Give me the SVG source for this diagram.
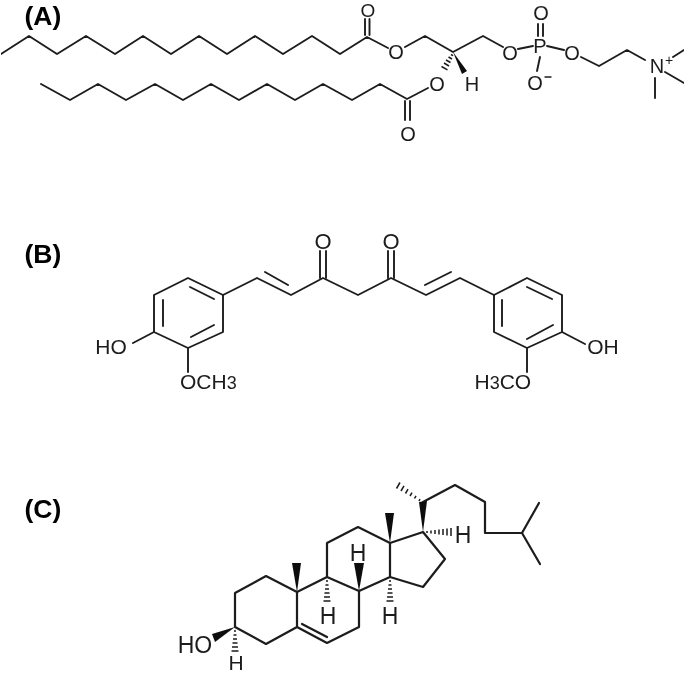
<svg xmlns="http://www.w3.org/2000/svg" width="685" height="675" viewBox="0 0 685 675">
<defs><filter id="soft" x="0" y="0" width="100%" height="100%"><feGaussianBlur stdDeviation="0.35"/></filter></defs>
<style>
.b{fill:none;stroke:#1c1c1c;stroke-width:1.9;stroke-linejoin:round;stroke-linecap:round}
.c{stroke-width:2.2}
.h{fill:none;stroke:#1c1c1c;stroke-width:1.5}
.w{fill:#111;stroke:none}
.a{font-family:"Liberation Sans",Arial,sans-serif;fill:#1c1c1c;text-anchor:middle}
.s19{font-size:19px}.s20{font-size:20px}.s21{font-size:21px}.s22{font-size:22px}.s23{font-size:23px}
.n{font-family:"Liberation Sans",Arial,sans-serif;font-size:21px;fill:#1c1c1c}
.n tspan{font-size:18px}
.l{font-family:"Liberation Sans",Arial,sans-serif;font-weight:bold;font-size:26.500px;fill:#000}
</style>
<rect width="685" height="675" fill="#fff"/>
<g filter="url(#soft)">
<g id="molecule-a">
<text class="l" x="24.500" y="25">(A)</text>
<path class="b" d="M1,54 L29,36 L57,54 L86,36 L115,54 L143,36 L171,54 L199,36 L227,54 L255,36 L283,54 L312,36 L340,54 L367,37 L388,48"/>
<path class="b" d="M365,35V19M369.500,35V19"/>
<path class="b" d="M405,47L425,36L453,52L483,36L503,47M518,49L533,46M547,46L564,50M581,57L599,66L627,50L645,60"/>
<path class="b" d="M538,36V24M543,36V24M540,57L537,71"/>
<path class="b" d="M673,57L684,50M665,72L684,83M655,78V98"/>
<path class="b" d="M41,84L70,100L98,84L126,100L155,84L183,100L211,84L239,100L267,84L295,100L323,84L352,100L380,84L407,99L428,88"/>
<path class="b" d="M405,101V120M410,101V120"/>
<polygon class="w" points="453,52 462,74 467,71"/>
<path class="h" d="M451,54.500l2,1.200M448.500,57l3.500,2M446,60l4.500,2.500M444,63l5,3M441.500,66.500l6,3.400"/>
<text class="a s19" x="368" y="17">O</text>
<text class="a s20" x="396" y="59">O</text>
<text class="a s20" x="437" y="91">O</text>
<text class="a s20" x="408" y="141">O</text>
<text class="a s20" x="472" y="91">H</text>
<text class="a s20" x="510" y="60">O</text>
<text class="a s20" x="540" y="53">P</text>
<text class="a s20" x="541" y="20">O</text>
<text class="a s20" x="535" y="90">O</text>
<path class="b" d="M545,77h6" style="stroke-width:1.300"/>
<text class="a s20" x="572" y="60">O</text>
<text class="a s20" x="657" y="73">N</text>
<text class="a" style="font-size:14px" x="669" y="65">+</text>
</g>
<g id="molecule-b">
<text class="l" x="24.500" y="263">(B)</text>
<path class="b" d="M188,278L223,295V332L188,348L154,332V295Z"/>
<path class="b" d="M190,287L214,299M214,325L191,337M163,300V326"/>
<path class="b" d="M223,295L257,278L291,295L323,278L358,295L391,278L426,295L460,278L494,295"/>
<path class="b" d="M265,272L288,285M320,278V251M326,278V251M388,278V251M394,278V251M425,285L451,272"/>
<path class="b" d="M527,278L562,295V332L527,348L494,332V295Z"/>
<path class="b" d="M527,287L552,299M553,325L527,339M502,300V326"/>
<path class="b" d="M154,332L133,343M188,348V372M562,332L585,344M527,348V372"/>
<text class="a s22" x="323" y="249">O</text>
<text class="a s22" x="391" y="249">O</text>
<text class="a s21" x="111" y="354">HO</text>
<text class="a s21" x="603" y="354">OH</text>
<text class="n" x="180" y="389">OCH<tspan>3</tspan></text>
<text class="n" x="474.500" y="389">H<tspan>3</tspan>CO</text>
</g>
<g id="molecule-c">
<text class="l" x="24.500" y="518">(C)</text>
<path class="b c" d="M235,627V593L266,576L297,592V627L266,644Z"/>
<path class="b c" d="M297,592L327,577L359,591V627L327,643L297,627"/>
<path class="b c" d="M302,624L327,637"/>
<path class="b c" d="M327,577V543L358,527L390,543V577L359,591"/>
<path class="b c" d="M390,543L423,532L445,559L423,587L390,577"/>
<path class="b c" d="M423,502L455,485L485,502V533H522L539,503M522,533L540,564"/>
<polygon class="w" points="297,592 292,563 301,563"/>
<polygon class="w" points="390,543 385,513 394,513"/>
<polygon class="w" points="359,591 354,563 364,563"/>
<polygon class="w" points="423,532 419,502 427,501"/>
<polygon class="w" points="235,627 212,634 215,642"/>
<path class="h" d="M326,581h2M325.500,585h3M325,589h4M324.500,593h5M324,597h6M323.500,601h7"/>
<path class="h" d="M389,581h2M388.500,585h3M388,589h4M387.500,593h5M387,597h6M386.500,601h7"/>
<path class="h" d="M234,631h2M233.500,635h3M233,639h4M232.500,643h5M232,647h6M231.500,651h7"/>
<path class="h" d="M427,531v2M431,530.500v3M435,530v4M439,529.500v5M443,529v6M447,528.500v7M451,528v8"/>
<path class="h" d="M419,501l1,-1.800M414.500,498.500l1.500,-2.600M410,496l2,-3.400M405.500,493.500l2.500,-4.300M401,491l3,-5.100M396.500,488.500l3.500,-6"/>
<text class="a s23" x="195" y="653">HO</text>
<text class="a s21" x="236" y="670">H</text>
<text class="a s23" x="328" y="624">H</text>
<text class="a s23" x="390" y="624">H</text>
<text class="a s23" x="358" y="561">H</text>
<text class="a s23" x="463" y="543">H</text>
</g>
</g>
</svg>
